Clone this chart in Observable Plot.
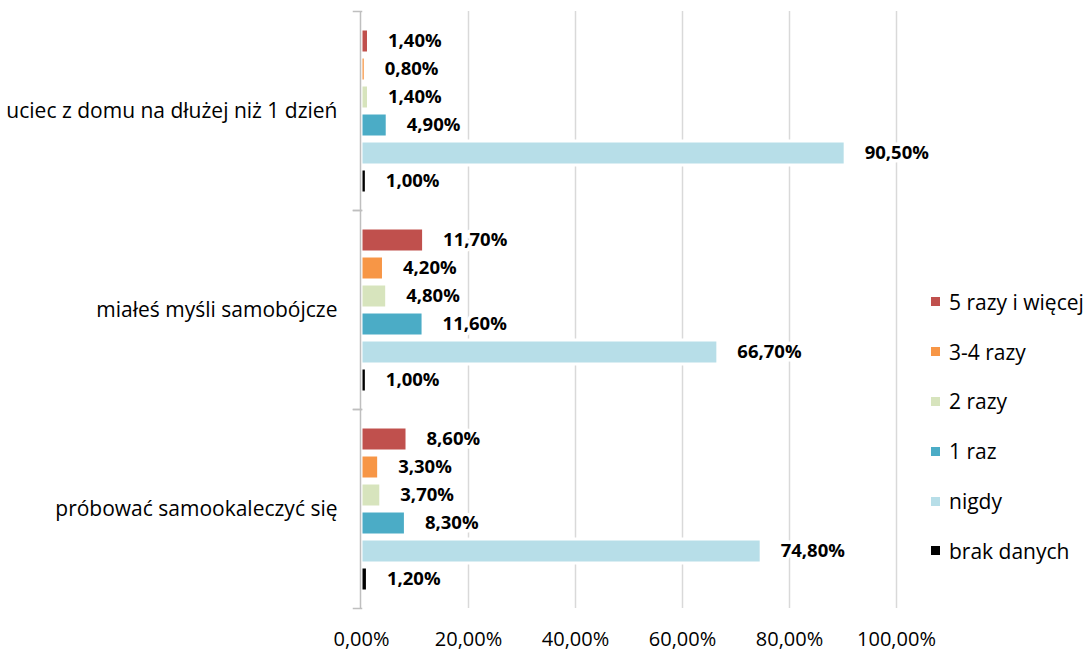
<!DOCTYPE html>
<html>
<head>
<meta charset="utf-8">
<script src="https://cdn.jsdelivr.net/npm/d3@7"></script>
<script src="https://cdn.jsdelivr.net/npm/@observablehq/plot@0.6"></script>
<style>
  html, body { margin: 0; padding: 0; background: #fff; }
  #wrap { position: relative; width: 1087px; height: 651px; overflow: hidden; font-family: "Open Sans", sans-serif; }
  #legend { position: absolute; left: 931px; top: 277px; }
  .item { display: flex; align-items: center; height: 49.8px; font-size: 21px; color: #000; white-space: nowrap; }
  .sw { width: 9px; height: 9px; margin-right: 9px; flex: none; }
  svg g[aria-label="fy-axis tick label"] text { font-size: 21px; }
</style>
</head>
<body>
<div id="wrap"><div id="legend"></div></div>
<script>
const categories = ["uciec z domu na dłużej niż 1 dzień", "miałeś myśli samobójcze", "próbować samookaleczyć się"];
const series = ["5 razy i więcej", "3-4 razy", "2 razy", "1 raz", "nigdy", "brak danych"];
const seriesColors = ["#C0504D", "#F79646", "#D7E4BD", "#4BACC6", "#B7DEE8", "#000000"];
const valuesUciec = [1.4, 0.8, 1.4, 4.9, 90.5, 1.0];
const valuesMysli = [11.7, 4.2, 4.8, 11.6, 66.7, 1.0];
const valuesSamo = [8.6, 3.3, 3.7, 8.3, 74.8, 1.2];
const xTicks = [0, 20, 40, 60, 80, 100];

const allValues = [valuesUciec, valuesMysli, valuesSamo];
const data = [];
categories.forEach((c, i) => series.forEach((s, j) => data.push({category: c, series: s, value: allValues[i][j]})));

const fmt = v => v.toFixed(2).replace(".", ",") + "%";

const chart = Plot.plot({
  width: 1087,
  height: 651,
  marginLeft: 361,
  marginRight: 191,
  marginTop: 10,
  marginBottom: 43,
  style: {fontFamily: "Open Sans, sans-serif", fontSize: "20px", color: "#000", background: "#fff"},
  x: {domain: [0, 100], ticks: xTicks, tickFormat: fmt, tickSize: 0, tickPadding: 23, label: null},
  y: {domain: series, paddingInner: 0.16, paddingOuter: 0.57, axis: null},
  fy: {domain: categories, padding: 0, label: null, tickSize: 0, tickPadding: 24},
  color: {domain: series, range: seriesColors},
  marks: [
    Plot.gridX(xTicks.filter(d => d > 0), {stroke: "#d9d9d9", strokeOpacity: 1, strokeWidth: 1.5}),
    Plot.barX(data, {x: "value", y: "series", fy: "category", fill: "series", stroke: "white", strokeWidth: 3}),
    Plot.text(data, {x: "value", y: "series", fy: "category", text: d => fmt(d.value), textAnchor: "start", dx: 19,
      fontWeight: "bold", fontSize: 18.5, fill: "#000", stroke: "white", strokeWidth: 7}),
    Plot.ruleX([0], {stroke: "#bfbfbf", strokeWidth: 1.5, dx: -1}),
    Plot.frame({anchor: "top", dx: -8, insetRight: 527, stroke: "#bfbfbf", strokeWidth: 1.5}),
    Plot.frame({anchor: "bottom", dx: -8, insetRight: 527, stroke: "#bfbfbf", strokeWidth: 1.5})
  ]
});
document.getElementById("wrap").prepend(chart);
// category labels slightly larger than tick labels
chart.querySelectorAll('g[aria-label="fy-axis tick label"] text').forEach(t => t.setAttribute("font-size", 21));

const legend = document.getElementById("legend");
series.forEach((s, i) => {
  const it = document.createElement("div");
  it.className = "item";
  const sw = document.createElement("span");
  sw.className = "sw";
  sw.style.background = seriesColors[i];
  const t = document.createElement("span");
  t.textContent = s;
  it.append(sw, t);
  legend.append(it);
});
</script>
</body>
</html>
